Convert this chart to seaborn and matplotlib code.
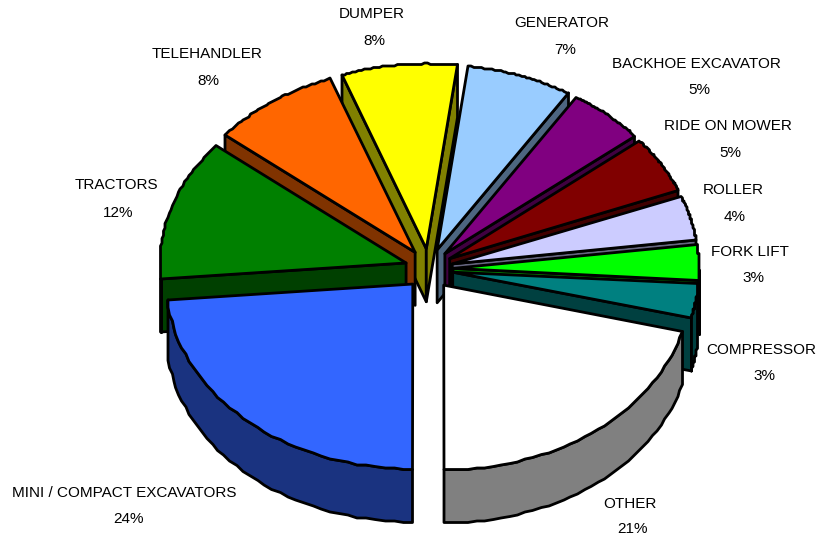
import numpy as np
import matplotlib
matplotlib.use('Agg')
import matplotlib.pyplot as plt
from matplotlib.patches import Polygon
import seaborn as sns

labels = ['MINI / COMPACT EXCAVATORS', 'TRACTORS', 'TELEHANDLER', 'DUMPER', 'GENERATOR',
          'BACKHOE EXCAVATOR', 'RIDE ON MOWER', 'ROLLER', 'FORK LIFT', 'COMPRESSOR', 'OTHER']
values = [23.6, 12.4, 8.4, 7.6, 7, 5, 5, 4, 3, 3, 21]
tops = ['#3366FF', '#008000', '#FF6600', '#FFFF00', '#99CCFF', '#800080',
        '#800000', '#CCCCFF', '#00FF00', '#008080', '#FFFFFF']
label_x = [124, 116, 207, 372, 562, 696, 728, 733, 750, 761, 630]
label_y = [493, 185, 54, 14, 23, 64, 126, 190, 252, 350, 504]
pct_x = [128, 118, 208, 374, 565, 699, 730, 735, 753, 764, 633]
pct_y = [519, 213, 81, 41, 50, 90, 153, 217, 278, 376, 529]

sns.set_theme(style='white')
plt.rcParams['font.family'] = ['Liberation Sans', 'DejaVu Sans']

CX, CY = 429, 269
RX, RY = 246, 185
DEPTH = 53
EXPLODE = 24
STEP = 1.5  # the rim in the original is a bit stepped


def dark(color):
    return tuple(c * 0.5 for c in matplotlib.colors.to_rgb(color))


fig, ax = plt.subplots(figsize=(8.25, 5.37), dpi=100)
fig.subplots_adjust(0, 0, 1, 1)
ax.set_xlim(0, 825)
ax.set_ylim(537, 0)
ax.axis('off')

palette = sns.color_palette(tops)
shares = np.array(values) / sum(values) * 360
starts = 180 + np.concatenate([[0], np.cumsum(shares)[:-1]])


def add_poly(pts, color, z):
    ax.add_patch(Polygon(pts, closed=True, facecolor=color, edgecolor='black',
                         linewidth=2, joinstyle='round', zorder=z))


for start, share, col in zip(starts, shares, palette):
    end = start + share
    mid = np.radians(start + share / 2)
    ax0 = CX + EXPLODE * np.sin(mid)
    ay0 = CY - EXPLODE * np.cos(mid) * 0.85
    ang = np.linspace(start, end, 40)
    xs = np.round((ax0 + RX * np.sin(np.radians(ang))) / STEP) * STEP
    ys = np.round((ay0 - RY * np.cos(np.radians(ang))) / STEP) * STEP
    # back slices are painted first
    z = 10 - np.cos(mid) * 5
    d = dark(col)
    # radial walls, only the ones facing the viewer
    if np.sin(np.radians(start)) < -0.001:
        add_poly([(ax0, ay0), (xs[0], ys[0]), (xs[0], ys[0] + DEPTH), (ax0, ay0 + DEPTH)], d, z)
    if np.sin(np.radians(end)) > 0.001:
        add_poly([(ax0, ay0), (xs[-1], ys[-1]), (xs[-1], ys[-1] + DEPTH), (ax0, ay0 + DEPTH)], d, z)
    # outer wall, front half of the rim only
    front = np.cos(np.radians(ang)) < 0
    if front.sum() > 1:
        fx, fy = xs[front], ys[front]
        add_poly(list(zip(fx, fy)) + list(zip(fx[::-1], fy[::-1] + DEPTH)), d, z + 0.005)
    add_poly([(ax0, ay0)] + list(zip(xs, ys)), col, z + 0.01)

for name, val, x, y, px, py in zip(labels, values, label_x, label_y, pct_x, pct_y):
    ax.text(x, y, name, ha='center', va='center', fontsize=11, color='black', zorder=30)
    ax.text(px, py, f'{val:.0f}%', ha='center', va='center', fontsize=11, color='black', zorder=30)

plt.savefig('out.png', dpi=100)
plt.close()
